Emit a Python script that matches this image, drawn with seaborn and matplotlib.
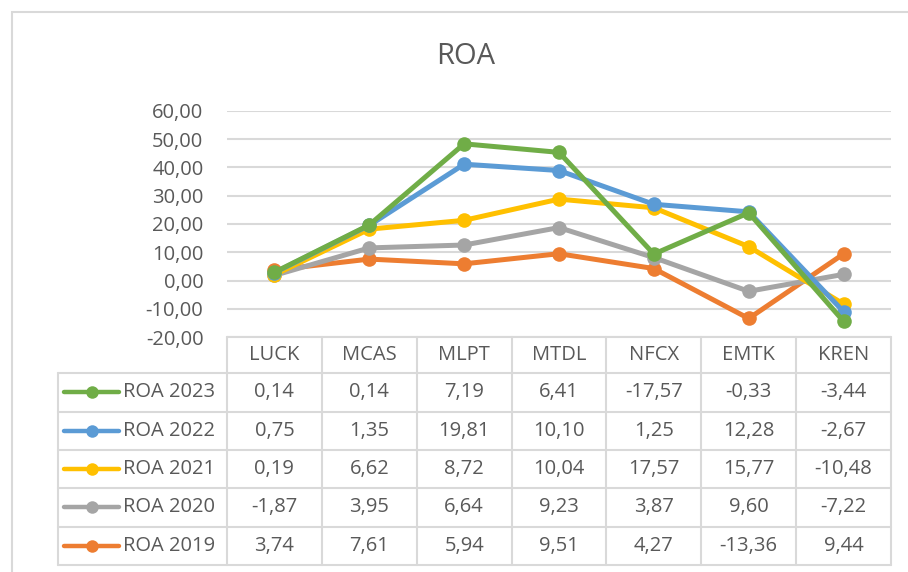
import matplotlib
matplotlib.use("Agg")
import matplotlib.pyplot as plt
from matplotlib.lines import Line2D
from matplotlib.patches import Rectangle
import numpy as np
import pandas as pd
import seaborn as sns

categories = ["LUCK", "MCAS", "MLPT", "MTDL", "NFCX", "EMTK", "KREN"]
series_names = ["ROA 2019", "ROA 2020", "ROA 2021", "ROA 2022", "ROA 2023"]
roa_2019 = [3.74, 7.61, 5.94, 9.51, 4.27, -13.36, 9.44]
roa_2020 = [-1.87, 3.95, 6.64, 9.23, 3.87, 9.60, -7.22]
roa_2021 = [0.19, 6.62, 8.72, 10.04, 17.57, 15.77, -10.48]
roa_2022 = [0.75, 1.35, 19.81, 10.10, 1.25, 12.28, -2.67]
roa_2023 = [0.14, 0.14, 7.19, 6.41, -17.57, -0.33, -3.44]
y_ticks = [-20, -10, 0, 10, 20, 30, 40, 50, 60]
title = "ROA"

colors = {"ROA 2019": "#ED7D31", "ROA 2020": "#A5A5A5", "ROA 2021": "#FFC000",
          "ROA 2022": "#5B9BD5", "ROA 2023": "#70AD47"}
raw = {"ROA 2019": roa_2019, "ROA 2020": roa_2020, "ROA 2021": roa_2021,
       "ROA 2022": roa_2022, "ROA 2023": roa_2023}

# stacked line chart: cumulative sums in series order
rows = []
cum = np.zeros(len(categories))
for s in series_names:
    cum = cum + np.array(raw[s])
    for i, c in enumerate(categories):
        rows.append({"pos": i, "category": c, "series": s, "value": cum[i]})
df = pd.DataFrame(rows)

sns.set_theme(style="white")
plt.rcParams["font.family"] = ["Open Sans", "DejaVu Sans"]
TXT = "#595959"
GRID = "#D9D9D9"

W, H = 908, 572
fig = plt.figure(figsize=(W / 100, H / 100), dpi=100)

def fx(x):
    return x / W

def fy(y):
    return 1 - y / H

# outer chart border
fig.add_artist(Rectangle((fx(12), fy(600)), fx(930) - fx(12), fy(12) - fy(600),
                         transform=fig.transFigure, fill=False, edgecolor=GRID, lw=1.5))

ax_left, ax_right = 227, 891
y_top, y_bot = 110.7, 337.3
ax = fig.add_axes([fx(ax_left), fy(y_bot), fx(ax_right - ax_left), (y_bot - y_top) / H])

sns.lineplot(data=df, x="pos", y="value", hue="series", hue_order=series_names,
             palette=colors, marker="o", markersize=10.5, markeredgewidth=0,
             linewidth=3.6, legend=False, sort=False, ax=ax, zorder=3)

ax.set_xlim(-0.5, len(categories) - 0.5)
ax.set_ylim(-20, 60)
ax.set_yticks(y_ticks)
ax.set_yticklabels([f"{v:.2f}".replace(".", ",") for v in y_ticks], color=TXT, fontsize=14.5)
ax.tick_params(axis="y", length=0, pad=17)
ax.set_xticks([])
ax.set_xlabel("")
ax.set_ylabel("")
for sp in ax.spines.values():
    sp.set_visible(False)
ax.grid(False)
for t in y_ticks:
    ax.axhline(t, color=GRID, lw=1.5, zorder=1)

fig.text(fx(466), fy(57), title, ha="center", va="center", fontsize=21, color=TXT)

# data table
col_w = (ax_right - ax_left) / len(categories)
row_lines = [337.3, 373.3, 411.6, 449.9, 488.2, 526.5, 565]
tbl_left = 58
def hline(y, x0, x1):
    fig.add_artist(Line2D([fx(x0), fx(x1)], [fy(y), fy(y)], transform=fig.transFigure,
                          color=GRID, lw=1.5))
def vline(x, y0, y1):
    fig.add_artist(Line2D([fx(x), fx(x)], [fy(y0), fy(y1)], transform=fig.transFigure,
                          color=GRID, lw=1.5))

hline(row_lines[0], ax_left, ax_right)
for y in row_lines[1:]:
    hline(y, tbl_left, ax_right)
vline(tbl_left, row_lines[1], row_lines[-1])
for k in range(len(categories) + 1):
    vline(ax_left + k * col_w, row_lines[0], row_lines[-1])

for i, c in enumerate(categories):
    fig.text(fx(ax_left + (i + 0.5) * col_w), fy((row_lines[0] + row_lines[1]) / 2), c,
             ha="center", va="center", fontsize=14.5, color=TXT)

table_order = ["ROA 2023", "ROA 2022", "ROA 2021", "ROA 2020", "ROA 2019"]
for r, s in enumerate(table_order):
    yc = (row_lines[r + 1] + row_lines[r + 2]) / 2
    fig.add_artist(Line2D([fx(64), fx(119)], [fy(yc), fy(yc)], transform=fig.transFigure,
                          color=colors[s], lw=3.2, solid_capstyle="round"))
    fig.add_artist(Line2D([fx(91.5)], [fy(yc)], transform=fig.transFigure, marker="o",
                          markersize=9, markeredgewidth=0, color=colors[s]))
    fig.text(fx(123), fy(yc), s, ha="left", va="center", fontsize=14.5, color=TXT)
    for i, v in enumerate(raw[s]):
        fig.text(fx(ax_left + (i + 0.5) * col_w), fy(yc), f"{v:.2f}".replace(".", ","),
                 ha="center", va="center", fontsize=14.5, color=TXT)

fig.savefig("out.png", dpi=100, facecolor="white")
